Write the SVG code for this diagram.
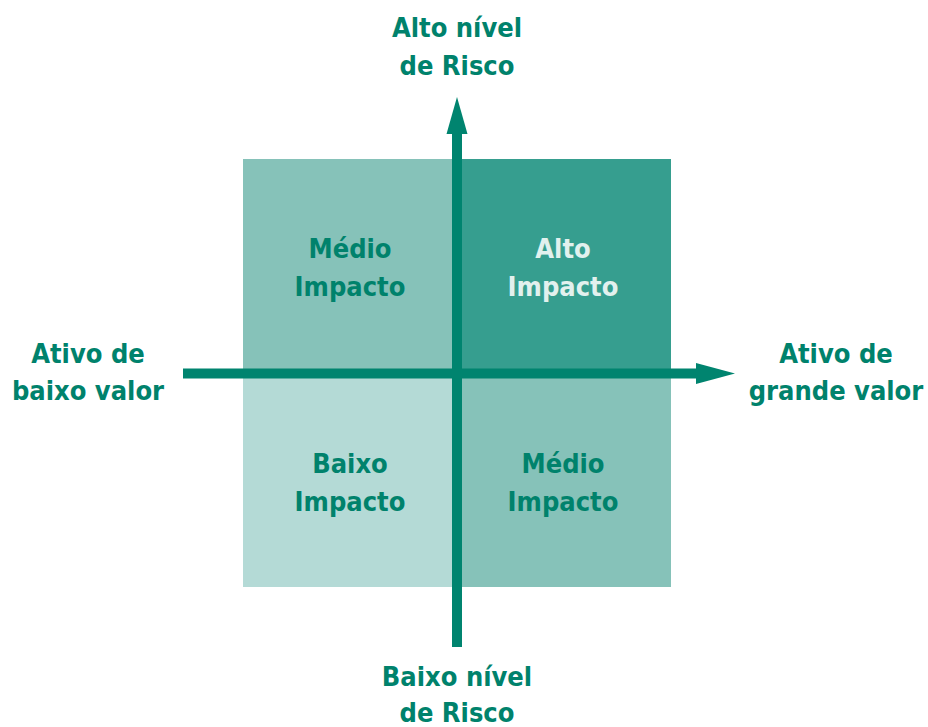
<svg xmlns="http://www.w3.org/2000/svg" width="928" height="727" viewBox="0 0 928 727">
<style>
text{font-family:"DejaVu Sans Condensed","DejaVu Sans",sans-serif;font-weight:bold;font-size:27px;text-anchor:middle}
.d{fill:#00826C}
.l{fill:#E2F1EE}
.ax{stroke:#00846F;stroke-width:10;fill:none}
</style>
<rect width="928" height="727" fill="#ffffff"/>
<g id="q-top-left"><rect x="243" y="159" width="214" height="214" fill="#86C2B9"/><text class="d" x="350" y="258">Médio</text><text class="d" x="350" y="296">Impacto</text></g>
<g id="q-top-right"><rect x="457" y="159" width="214" height="214" fill="#369E8F"/><text class="l" x="563" y="258">Alto</text><text class="l" x="563" y="296">Impacto</text></g>
<g id="q-bottom-left"><rect x="243" y="373" width="214" height="214" fill="#B4DAD6"/><text class="d" x="350" y="473">Baixo</text><text class="d" x="350" y="511">Impacto</text></g>
<g id="q-bottom-right"><rect x="457" y="373" width="214" height="214" fill="#86C2B9"/><text class="d" x="563" y="473">Médio</text><text class="d" x="563" y="511">Impacto</text></g>
<g id="connectors">
<line class="ax" x1="457" y1="647" x2="457" y2="130"/>
<polygon points="446.5,134 457,97 467.5,134" fill="#00846F"/>
<line class="ax" x1="183" y1="373.5" x2="700" y2="373.5"/>
<polygon points="696,363 735,373.5 696,384" fill="#00846F"/>
</g>
<g id="label-top"><text class="d" x="457" y="37">Alto nível</text><text class="d" x="457" y="75">de Risco</text></g>
<g id="label-bottom"><text class="d" x="457" y="686">Baixo nível</text><text class="d" x="457" y="722">de Risco</text></g>
<g id="label-left"><text class="d" x="88" y="363">Ativo de</text><text class="d" x="88" y="400">baixo valor</text></g>
<g id="label-right"><text class="d" x="836" y="363">Ativo de</text><text class="d" x="836" y="400">grande valor</text></g>
</svg>
